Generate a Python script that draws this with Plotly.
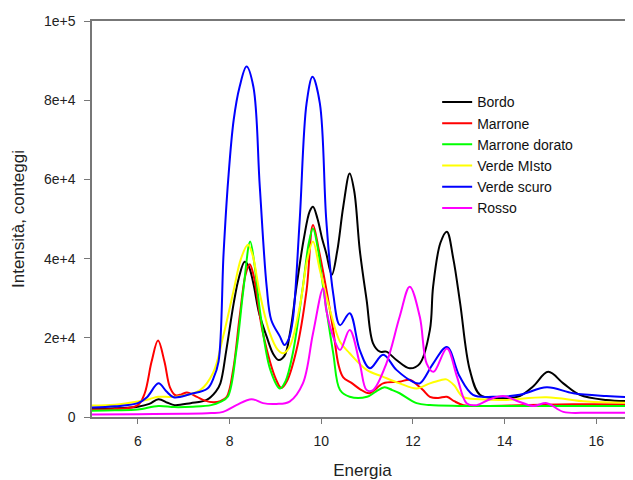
import plotly.graph_objects as go

# Bordo (black)
bordo_x = [5.0, 5.5, 6.0, 6.25, 6.45, 6.65, 6.8, 7.15, 7.5, 7.7, 7.8, 7.93, 8.09, 8.2, 8.33, 8.42, 8.52, 8.65, 8.81, 8.95, 9.07, 9.2, 9.33, 9.46, 9.62, 9.75, 9.82, 9.92, 10.02, 10.11, 10.23, 10.35, 10.48, 10.62, 10.72, 10.84, 10.99, 11.13, 11.28, 11.42, 11.64, 11.93, 12.15, 12.37, 12.44, 12.6, 12.74, 12.88, 13.03, 13.24, 13.46, 13.82, 14.33, 14.62, 14.95, 15.28, 15.64, 16.22, 16.8]
bordo_y = [2100, 2200, 2600, 3300, 4500, 3600, 3000, 3500, 4300, 6400, 8500, 16900, 28700, 35000, 39200, 38000, 33700, 26000, 20300, 16000, 14400, 15500, 22000, 32900, 45000, 52000, 53100, 50000, 45000, 41300, 35900, 42000, 53100, 61500, 57000, 42200, 29500, 18600, 16500, 16500, 14400, 12300, 13500, 22000, 32900, 44000, 46800, 40000, 28700, 11900, 5600, 4700, 5300, 7700, 11400, 8500, 5600, 4300, 4000]

# Marrone (red)
marrone_x = [5.0, 5.5, 6.0, 6.15, 6.3, 6.44, 6.58, 6.7, 6.82, 6.95, 7.07, 7.29, 7.45, 7.65, 7.8, 7.94, 8.08, 8.22, 8.35, 8.44, 8.52, 8.73, 9.02, 9.13, 9.25, 9.46, 9.68, 9.82, 9.95, 10.1, 10.26, 10.38, 10.48, 10.66, 10.85, 11.05, 11.35, 11.71, 11.93, 12.1, 12.22, 12.37, 12.55, 12.74, 12.9, 13.1, 13.5, 14.5, 15.5, 16.8]
marrone_y = [1900, 2000, 3000, 6000, 14000, 19300, 14000, 7500, 5500, 5700, 6200, 5100, 4200, 3700, 4000, 5100, 12000, 25300, 36000, 38600, 36000, 21100, 9300, 7300, 9000, 16900, 32000, 48500, 42000, 33000, 22000, 13000, 10000, 8600, 7000, 6000, 8500, 8900, 9400, 8000, 6800, 5100, 4800, 5100, 4000, 3000, 2800, 3000, 3200, 3200]

# Marrone dorato (green)
dorato_x = [5.0, 5.5, 6.0, 6.45, 6.8, 7.2, 7.6, 7.8, 7.96, 8.15, 8.3, 8.45, 8.55, 8.67, 8.89, 9.1, 9.22, 9.38, 9.6, 9.73, 9.82, 9.92, 10.04, 10.26, 10.41, 10.62, 11.0, 11.2, 11.38, 11.55, 11.71, 12.08, 12.37, 13.0, 14.0, 16.8]
dorato_y = [1600, 1700, 1900, 2800, 2500, 2600, 3000, 3800, 5100, 16900, 32000, 44300, 38000, 26200, 11900, 7200, 9000, 16100, 32900, 44000, 47600, 43000, 32900, 16200, 6800, 5100, 5100, 6500, 7500, 6800, 6000, 3500, 3000, 2800, 2800, 2800]

# Verde MIsto (yellow)
misto_x = [5.0, 5.5, 6.0, 6.25, 6.44, 6.84, 7.36, 7.64, 7.86, 8.09, 8.25, 8.4, 8.5, 8.66, 8.88, 9.05, 9.17, 9.31, 9.53, 9.7, 9.82, 9.97, 10.19, 10.41, 10.62, 10.99, 11.34, 11.71, 12.08, 12.37, 12.6, 12.73, 12.9, 13.09, 13.46, 13.97, 14.91, 15.79, 16.8]
misto_y = [2900, 3100, 3900, 4500, 5100, 5100, 6800, 11100, 20300, 32000, 40000, 43500, 41000, 31200, 21100, 17000, 16100, 17700, 27800, 40000, 44300, 37100, 27000, 19000, 16100, 11900, 10200, 8500, 7200, 8500, 9300, 9500, 8000, 5100, 4500, 4300, 5000, 3900, 3600]

# Verde scuro (blue)
scuro_x = [5.0, 5.5, 6.0, 6.2, 6.45, 6.62, 6.78, 7.15, 7.52, 7.65, 7.76, 7.87, 7.97, 8.09, 8.22, 8.37, 8.52, 8.66, 8.81, 8.91, 9.1, 9.2, 9.3, 9.38, 9.53, 9.68, 9.81, 9.97, 10.11, 10.26, 10.41, 10.62, 10.84, 11.06, 11.35, 11.64, 12.0, 12.15, 12.44, 12.74, 13.02, 13.31, 13.75, 14.33, 14.92, 15.5, 16.22, 16.8]
scuro_y = [2400, 2700, 3500, 5000, 8500, 6500, 5000, 5800, 7200, 9800, 14000, 41300, 59800, 75000, 83400, 88500, 83400, 58100, 32900, 24500, 20300, 18200, 20000, 24500, 49700, 79200, 85900, 79200, 49700, 31200, 23200, 26200, 16900, 12300, 15700, 11900, 8900, 8500, 13500, 17700, 10200, 5600, 5100, 5600, 7500, 6000, 5300, 5000]

# Rosso (magenta)
rosso_x = [5.0, 6.0, 7.0, 7.6, 7.86, 8.15, 8.48, 8.73, 9.02, 9.31, 9.6, 9.82, 10.04, 10.11, 10.26, 10.41, 10.62, 10.84, 10.99, 11.13, 11.42, 11.71, 11.93, 12.15, 12.3, 12.45, 12.74, 12.96, 13.17, 13.39, 13.68, 13.97, 14.26, 14.62, 14.92, 15.28, 15.86, 16.8]
rosso_y = [600, 700, 800, 1000, 1300, 3000, 4500, 3500, 3300, 3900, 8500, 21100, 32500, 27000, 20300, 16900, 22000, 13500, 6800, 6800, 13500, 25300, 32900, 25300, 13500, 11400, 17300, 10200, 3500, 3000, 4500, 5300, 4100, 2800, 3500, 1300, 1100, 1100]

series = [
    ("Bordo", bordo_x, bordo_y, "#000000"),
    ("Marrone", marrone_x, marrone_y, "#FF0000"),
    ("Marrone dorato", dorato_x, dorato_y, "#00FF00"),
    ("Verde MIsto", misto_x, misto_y, "#FFFF00"),
    ("Verde scuro", scuro_x, scuro_y, "#0000FF"),
    ("Rosso", rosso_x, rosso_y, "#FF00FF"),
]

y_tickvals = [0, 20000, 40000, 60000, 80000, 100000]
y_ticktext = ["0", "2e+4", "4e+4", "6e+4", "8e+4", "1e+5"]
x_tickvals = [6, 8, 10, 12, 14, 16]

fig = go.Figure()
for name, xs, ys, col in series:
    fig.add_trace(go.Scatter(x=xs, y=ys, mode="lines", name=name,
                             line=dict(color=col, width=2, shape="spline", smoothing=1.0)))

font_family = "Liberation Sans, Arial, sans-serif"
# the page body adds an 8px offset, so the figure is sized to fit the window
fig.update_layout(
    width=625, height=472,
    margin=dict(l=84, r=0, t=13, b=63, autoexpand=False),
    paper_bgcolor="white", plot_bgcolor="white",
    font=dict(family=font_family, color="#222222", size=14),
    showlegend=True,
    legend=dict(x=0.638, y=0.835, xanchor="left", yanchor="top",
                font=dict(family=font_family, size=14, color="#111111"),
                bgcolor="rgba(0,0,0,0)", borderwidth=0),
    xaxis=dict(range=[5, 16.8], tickvals=x_tickvals, ticks="outside", ticklen=5,
               tickcolor="#777777", showline=True, linecolor="#777777", linewidth=1.5,
               mirror=True, showgrid=False, zeroline=False, automargin=False,
               ticklabelstandoff=5,
               title=dict(text="Energia", font=dict(size=17, family=font_family), standoff=22),
               tickfont=dict(size=14)),
    yaxis=dict(range=[0, 100000], tickvals=y_tickvals, ticktext=y_ticktext, ticks="outside",
               ticklen=6, tickcolor="#777777", showline=True, linecolor="#777777", linewidth=1.5,
               showgrid=False, zeroline=False, automargin=False, ticklabelstandoff=6,
               title=dict(text="Intensità, conteggi", font=dict(size=17, family=font_family), standoff=15),
               tickfont=dict(size=14)),
)

fig.write_html("out.html")
